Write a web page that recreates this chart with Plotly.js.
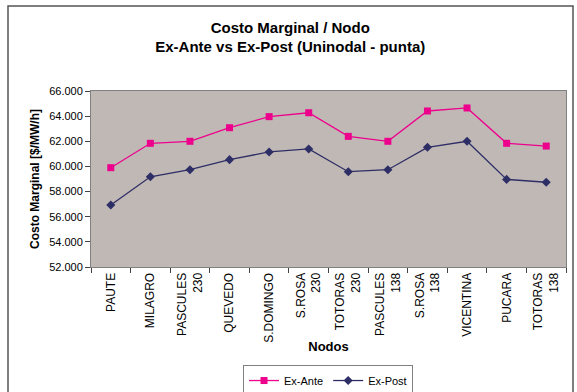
<!DOCTYPE html>
<html>
<head>
<meta charset="utf-8">
<script src="https://cdn.plot.ly/plotly-3.0.1.min.js"></script>
<style>html,body{margin:0;padding:0;background:#fff;}#chart{width:577px;height:392px;}</style>
</head>
<body>
<div id="chart"></div>
<script>
var nodos = ["PAUTE","MILAGRO","PASCULES<br>230","QUEVEDO","S.DOMINGO","S.ROSA<br>230","TOTORAS<br>230","PASCULES<br>138","S.ROSA<br>138","VICENTINA","PUCARA","TOTORAS<br>138"];
var exAnte = [59.90, 61.84, 62.00, 63.08, 63.96, 64.27, 62.39, 62.00, 64.41, 64.65, 61.84, 61.62];
var exPost = [56.93, 59.18, 59.74, 60.54, 61.15, 61.39, 59.58, 59.74, 61.52, 62.00, 58.97, 58.74];
var yTicks = [52, 54, 56, 58, 60, 62, 64, 66];

var font = "Liberation Sans, Arial, sans-serif";
var traces = [
  {x: nodos, y: exAnte, name: "Ex-Ante", type: "scatter", mode: "lines+markers",
   line: {color: "#EC008C", width: 1.3}, marker: {symbol: "square", size: 7, color: "#EC008C"}},
  {x: nodos, y: exPost, name: "Ex-Post", type: "scatter", mode: "lines+markers",
   line: {color: "#2E2E66", width: 1.3}, marker: {symbol: "diamond", size: 7, color: "#2E2E66"}}
];
var layout = {
  width: 577, height: 392,
  margin: {l: 91, r: 11, t: 91, b: 125, autoexpand: false},
  paper_bgcolor: "#ffffff", plot_bgcolor: "#C0B8B5",
  font: {family: font, size: 11, color: "#000"},
  title: {text: "<b>Costo Marginal / Nodo<br>Ex-Ante vs Ex-Post (Uninodal - punta)</b>",
    font: {family: font, size: 15, color: "#000"}, x: 0.503, xanchor: "center", xref: "container",
    y: 0.917, yanchor: "top", yref: "container"},
  xaxis: {type: "category", tickson: "boundaries", ticks: "outside", ticklen: 5, tickcolor: "#444",
    tickangle: -90, showgrid: false, showline: true, linecolor: "#808080", mirror: true, linewidth: 1,
    tickfont: {family: font, size: 12, color: "#000"},
    title: {text: "<b>Nodos</b>", font: {family: font, size: 13, color: "#000"}, standoff: 0},
    range: [-0.5, 11.5]},
  yaxis: {range: [52, 66], tickvals: yTicks, tickformat: ".3f", ticks: "outside", ticklen: 5, tickcolor: "#444",
    showgrid: false, zeroline: false, showline: true, linecolor: "#808080", mirror: true, linewidth: 1,
    tickfont: {family: font, size: 11, color: "#000"},
    title: {text: "<b>Costo Marginal [$/MW/h]</b>", font: {family: font, size: 12, color: "#000"}, standoff: 6}},
  showlegend: true,
  legend: {orientation: "h", x: 0.499, xanchor: "center", y: -0.557, yanchor: "top",
    bordercolor: "#808080", borderwidth: 1, font: {family: font, size: 11, color: "#000"},
    itemwidth: 30, tracegroupgap: 0},
  shapes: [{type: "rect", xref: "paper", yref: "paper",
    x0: (8 - 91) / 475, x1: (573 - 91) / 475, y0: (267 - 400) / 176, y1: (267 - 6) / 176,
    line: {color: "#555", width: 1.5}, fillcolor: "rgba(0,0,0,0)", layer: "below"}]
};
Plotly.newPlot("chart", traces, layout, {displayModeBar: false, staticPlot: true});
</script>
</body>
</html>
